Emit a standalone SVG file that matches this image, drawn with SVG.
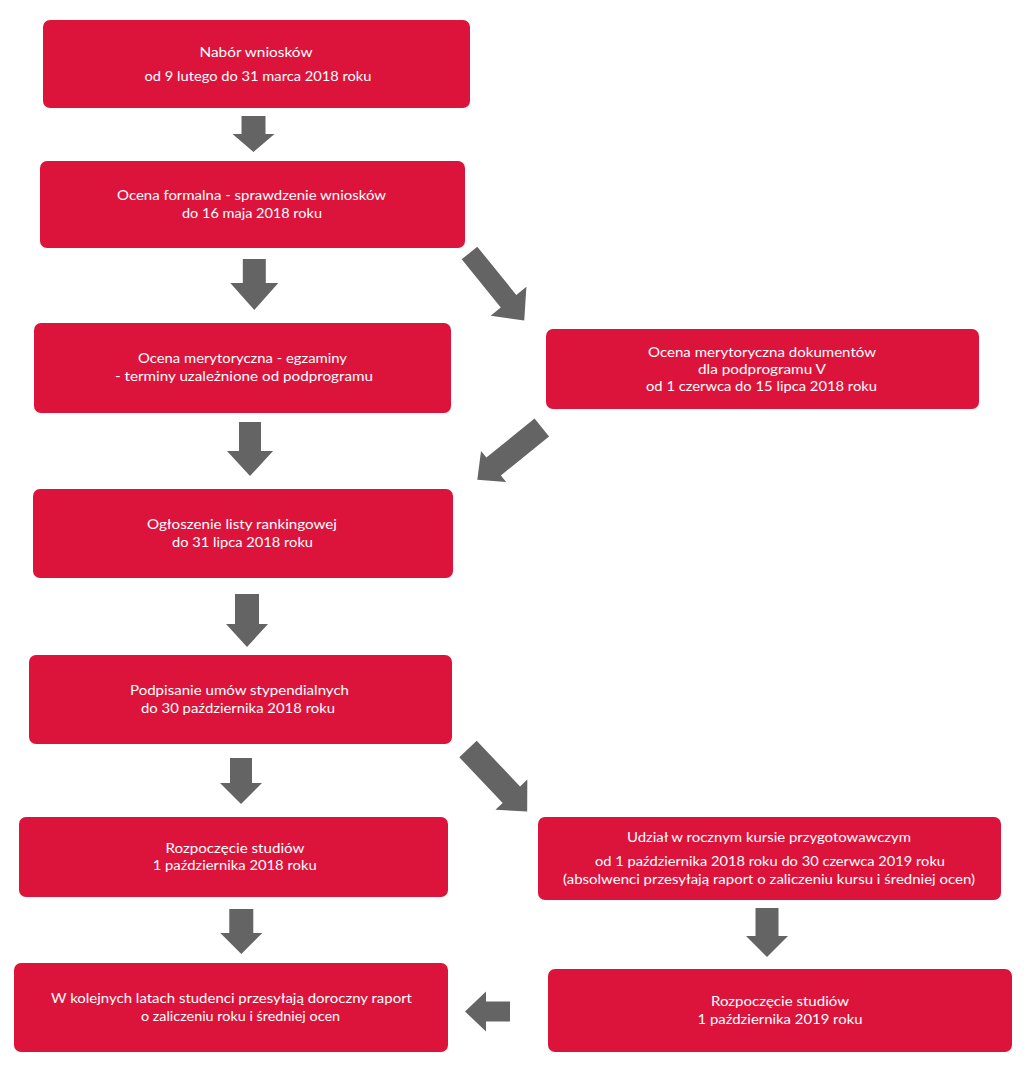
<svg xmlns="http://www.w3.org/2000/svg" width="1024" height="1070" viewBox="0 0 1024 1070">
<style>
.box{fill:#DC143C;}
.arr{fill:#646464;}
text{font-family:Lato,"Open Sans","Liberation Sans",sans-serif;font-size:14px;fill:#ffffff;text-anchor:middle;}
</style>
<rect width="1024" height="1070" fill="#ffffff"/>
<g id="connectors">
<polygon class="arr" transform="translate(253.5,116) rotate(90)" points="0,-12 18,-12 18,-21 36,0 18,21 18,12 0,12"/>
<polygon class="arr" transform="translate(254.3,259) rotate(90)" points="0,-11.5 24,-11.5 24,-24 51,0 24,24 24,11.5 0,11.5"/>
<polygon class="arr" transform="translate(469.5,253) rotate(51)" points="0,-10 62,-10 62,-23 87,0 62,23 62,10 0,10"/>
<polygon class="arr" transform="translate(250,422) rotate(90)" points="0,-11 29,-11 29,-23 54,0 29,23 29,11 0,11"/>
<polygon class="arr" transform="translate(541.8,427.5) rotate(141)" points="0,-11.5 62,-11.5 62,-20 83,0 62,20 62,11.5 0,11.5"/>
<polygon class="arr" transform="translate(247,594) rotate(90)" points="0,-12 30,-12 30,-21 53,0 30,21 30,12 0,12"/>
<polygon class="arr" transform="translate(241,758) rotate(90)" points="0,-11 25,-11 25,-21 46,0 25,21 25,11 0,11"/>
<polygon class="arr" transform="translate(468,749) rotate(46.5)" points="0,-12 63,-12 63,-22 86,0 63,22 63,12 0,12"/>
<polygon class="arr" transform="translate(241.3,909) rotate(90)" points="0,-12 24,-12 24,-21 45,0 24,21 24,12 0,12"/>
<polygon class="arr" transform="translate(767,908) rotate(90)" points="0,-11.5 28,-11.5 28,-21 49,0 28,21 28,11.5 0,11.5"/>
<polygon class="arr" transform="translate(510,1011.5) rotate(180)" points="0,-10 24,-10 24,-20 45,0 24,20 24,10 0,10"/>
</g>
<g id="n1"><rect class="box" x="43" y="20" width="427" height="88" rx="7"/>
<text x="256" y="57" textLength="113" lengthAdjust="spacingAndGlyphs">Nabór wniosków</text>
<text x="258" y="81" textLength="227" lengthAdjust="spacingAndGlyphs">od 9 lutego do 31 marca 2018 roku</text></g>
<g id="n2"><rect class="box" x="40" y="161" width="425" height="87" rx="7"/>
<text x="251.5" y="200" textLength="269" lengthAdjust="spacingAndGlyphs">Ocena formalna - sprawdzenie wniosków</text>
<text x="252" y="218" textLength="140" lengthAdjust="spacingAndGlyphs">do 16 maja 2018 roku</text></g>
<g id="n3"><rect class="box" x="34" y="323" width="417" height="90" rx="7"/>
<text x="242.5" y="363" textLength="209" lengthAdjust="spacingAndGlyphs">Ocena merytoryczna - egzaminy</text>
<text x="244" y="381" textLength="258" lengthAdjust="spacingAndGlyphs">- terminy uzależnione od podprogramu</text></g>
<g id="n4"><rect class="box" x="546" y="329" width="433" height="80" rx="7"/>
<text x="762" y="357" textLength="228" lengthAdjust="spacingAndGlyphs">Ocena merytoryczna dokumentów</text>
<text x="762" y="374" textLength="128" lengthAdjust="spacingAndGlyphs">dla podprogramu V</text>
<text x="761.5" y="391" textLength="231" lengthAdjust="spacingAndGlyphs">od 1 czerwca do 15 lipca 2018 roku</text></g>
<g id="n5"><rect class="box" x="33" y="489" width="420" height="89" rx="7"/>
<text x="242" y="529" textLength="190" lengthAdjust="spacingAndGlyphs">Ogłoszenie listy rankingowej</text>
<text x="242.5" y="547" textLength="141" lengthAdjust="spacingAndGlyphs">do 31 lipca 2018 roku</text></g>
<g id="n6"><rect class="box" x="29" y="655" width="423" height="89" rx="7"/>
<text x="239.5" y="695" textLength="219" lengthAdjust="spacingAndGlyphs">Podpisanie umów stypendialnych</text>
<text x="238" y="713" textLength="194" lengthAdjust="spacingAndGlyphs">do 30 października 2018 roku</text></g>
<g id="n7"><rect class="box" x="19" y="817" width="429" height="80" rx="7"/>
<text x="235" y="853" textLength="139" lengthAdjust="spacingAndGlyphs">Rozpoczęcie studiów</text>
<text x="234.7" y="870" textLength="164" lengthAdjust="spacingAndGlyphs">1 października 2018 roku</text></g>
<g id="n8"><rect class="box" x="538" y="817" width="463" height="83" rx="7"/>
<text x="769" y="842" textLength="284" lengthAdjust="spacingAndGlyphs">Udział w rocznym kursie przygotowawczym</text>
<text x="770" y="866" textLength="350" lengthAdjust="spacingAndGlyphs">od 1 października 2018 roku do 30 czerwca 2019 roku</text>
<text x="769" y="884" textLength="412" lengthAdjust="spacingAndGlyphs">(absolwenci przesyłają raport o zaliczeniu kursu i średniej ocen)</text></g>
<g id="n9"><rect class="box" x="14" y="963" width="434" height="89" rx="7"/>
<text x="231.5" y="1003" textLength="361" lengthAdjust="spacingAndGlyphs">W kolejnych latach studenci przesyłają doroczny raport</text>
<text x="240.5" y="1021" textLength="199" lengthAdjust="spacingAndGlyphs">o zaliczeniu roku  i średniej ocen</text></g>
<g id="n10"><rect class="box" x="548" y="969" width="464" height="83" rx="7"/>
<text x="780" y="1006" textLength="138" lengthAdjust="spacingAndGlyphs">Rozpoczęcie studiów</text>
<text x="780" y="1024" textLength="165" lengthAdjust="spacingAndGlyphs">1 października 2019 roku</text></g>
</svg>
